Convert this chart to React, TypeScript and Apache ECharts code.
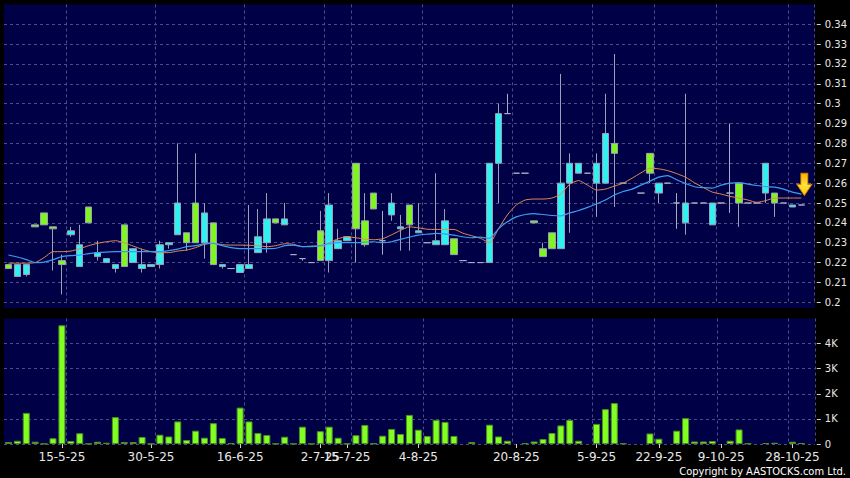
import React, { useEffect, useRef } from 'react';
import * as echarts from 'echarts';

// ---------- data ----------
const dayCount = 91;
const days: string[] = Array.from({ length: dayCount }, (_, i) => String(i));

const xTickLabels = ['15-5-25', '30-5-25', '16-6-25', '2-7-25', '15-7-25', '4-8-25', '20-8-25', '5-9-25', '22-9-25', '9-10-25', '28-10-25'];
const xTickDays = [6, 16, 26, 35, 38, 46, 57, 66, 73, 80, 88];
const xGridDays = [7, 17, 27, 36, 39, 47, 57, 66, 73, 80, 88];

const opens: (number | null)[] = [
  0.219, 0.213, 0.214, 0.239, 0.245, 0.238, 0.221, 0.234, 0.218, 0.248,
  0.223, 0.220, 0.217, 0.239, 0.220, 0.217, 0.218, 0.219, 0.229, 0.234,
  0.235, 0.250, 0.230, 0.240, 0.218, 0.217, 0.215, 0.217, 0.225, 0.230,
  0.242, 0.239, 0.224, 0.222, 0.220, 0.236, 0.221, 0.227, 0.231, 0.270,
  0.241, 0.255, 0.231, 0.244, 0.237, 0.249, 0.235, 0.230, 0.229, 0.229,
  0.232, 0.221, 0.220, 0.220, 0.220, 0.270, 0.295, 0.265, 0.265, 0.241,
  0.227, 0.235, 0.227, 0.260, 0.265, 0.265, 0.260, 0.260, 0.280, 0.260,
  null, 0.255, 0.275, 0.255, 0.260, 0.250, 0.240, 0.250, 0.250, 0.239,
  0.250, 0.255, 0.260, 0.250, 0.250, 0.255, 0.255, 0.250, 0.248, 0.249, null,
];
const closes: (number | null)[] = [
  0.217, 0.219, 0.219, 0.238, 0.239, 0.237, 0.219, 0.236, 0.229, 0.240,
  0.225, 0.222, 0.219, 0.218, 0.227, 0.219, 0.219, 0.229, 0.230, 0.250,
  0.230, 0.230, 0.245, 0.219, 0.219, 0.217, 0.219, 0.219, 0.233, 0.242,
  0.240, 0.242, 0.224, 0.222, 0.220, 0.221, 0.249, 0.231, 0.233, 0.237,
  0.229, 0.247, 0.231, 0.250, 0.238, 0.239, 0.236, 0.230, 0.231, 0.241,
  0.224, 0.221, 0.220, 0.220, 0.270, 0.295, 0.295, 0.265, 0.265, 0.240,
  0.223, 0.227, 0.260, 0.270, 0.270, 0.265, 0.270, 0.285, 0.275, 0.260,
  null, 0.255, 0.265, 0.260, 0.260, 0.250, 0.250, 0.250, 0.250, 0.250,
  0.250, 0.255, 0.250, 0.250, 0.250, 0.270, 0.250, 0.250, 0.249, 0.249, null,
];
const highs: (number | null)[] = [
  0.219, 0.219, 0.219, 0.239, 0.245, 0.238, 0.224, 0.238, 0.239, 0.248,
  0.231, 0.222, 0.219, 0.239, 0.227, 0.227, 0.219, 0.231, 0.230, 0.280,
  0.235, 0.275, 0.250, 0.240, 0.219, 0.217, 0.219, 0.249, 0.247, 0.255,
  0.242, 0.250, 0.224, 0.222, 0.220, 0.246, 0.255, 0.237, 0.233, 0.270,
  0.255, 0.255, 0.246, 0.255, 0.244, 0.249, 0.250, 0.230, 0.265, 0.247,
  0.232, 0.221, 0.220, 0.220, 0.270, 0.300, 0.305, 0.265, 0.265, 0.241,
  0.230, 0.235, 0.315, 0.275, 0.270, 0.265, 0.275, 0.305, 0.325, 0.260,
  null, 0.255, 0.275, 0.260, 0.260, 0.255, 0.305, 0.250, 0.250, 0.250,
  0.250, 0.290, 0.260, 0.250, 0.250, 0.270, 0.255, 0.250, 0.249, 0.249, null,
];
const lows: (number | null)[] = [
  0.217, 0.213, 0.213, 0.238, 0.239, 0.216, 0.204, 0.233, 0.218, 0.240,
  0.221, 0.220, 0.215, 0.218, 0.220, 0.215, 0.218, 0.217, 0.227, 0.234,
  0.226, 0.230, 0.222, 0.219, 0.217, 0.217, 0.215, 0.217, 0.225, 0.225,
  0.240, 0.239, 0.224, 0.221, 0.220, 0.221, 0.215, 0.227, 0.231, 0.220,
  0.228, 0.247, 0.224, 0.241, 0.226, 0.226, 0.235, 0.230, 0.229, 0.229,
  0.224, 0.221, 0.220, 0.220, 0.220, 0.250, 0.295, 0.265, 0.265, 0.240,
  0.223, 0.227, 0.227, 0.235, 0.265, 0.265, 0.243, 0.260, 0.248, 0.260,
  null, 0.255, 0.260, 0.250, 0.260, 0.237, 0.234, 0.250, 0.250, 0.239,
  0.250, 0.245, 0.238, 0.250, 0.250, 0.250, 0.243, 0.250, 0.248, 0.249, null,
];

// volume in thousands of shares
const volumesK: number[] = [
  0.08, 0.13, 1.24, 0.09, 0.01, 0.23, 4.73, 0.12, 0.43, 0.01,
  0.09, 0.05, 1.07, 0.08, 0.08, 0.28, 0.01, 0.37, 0.30, 0.90,
  0.16, 0.53, 0.25, 0.83, 0.24, 0.03, 1.45, 0.90, 0.44, 0.36,
  0.01, 0.29, 0.01, 0.69, 0.01, 0.51, 0.69, 0.25, 0.01, 0.35,
  0.76, 0.02, 0.33, 0.60, 0.40, 1.16, 0.57, 0.32, 0.96, 0.88,
  0.32, 0, 0.08, 0, 0.77, 0.30, 0.13, 0, 0.03, 0.10,
  0.20, 0.44, 0.74, 0.96, 0.13, 0, 0.80, 1.39, 1.63, 0.02,
  0, 0, 0.42, 0.21, 0, 0.53, 1.03, 0.10, 0.10, 0.12,
  0, 0.13, 0.58, 0.02, 0, 0.04, 0.05, 0, 0.09, 0.04, 0,
];

// moving averages (orange = short, blue = long)
const maShort: (number | null)[] = [
  0.2197, 0.2197, 0.2197, 0.2200, 0.2225, 0.2255, 0.2255, 0.2258, 0.2270, 0.2285,
  0.2297, 0.2305, 0.2310, 0.2300, 0.2283, 0.2267, 0.2255, 0.2250, 0.2250, 0.2258,
  0.2263, 0.2275, 0.2292, 0.2298, 0.2290, 0.2288, 0.2288, 0.2287, 0.2285, 0.2280,
  0.2285, 0.2295, 0.2292, 0.2280, 0.2283, 0.2283, 0.2300, 0.2320, 0.2330, 0.2325,
  0.2318, 0.2315, 0.2320, 0.2340, 0.2362, 0.2380, 0.2375, 0.2368, 0.2367, 0.2367,
  0.2367, 0.2348, 0.2335, 0.2322, 0.2300, 0.2370, 0.2440, 0.2490, 0.2515, 0.2520,
  0.2520, 0.2525, 0.2545, 0.2595, 0.2613, 0.2590, 0.2565, 0.2570, 0.2585, 0.2600,
  0.2625, 0.2652, 0.2675, 0.2672, 0.2663, 0.2648, 0.2630, 0.2602, 0.2578, 0.2555,
  0.2545, 0.2533, 0.2525, 0.2515, 0.2503, 0.2512, 0.2525, 0.2525, 0.2525, 0.2525, null,
];
const maLong: (number | null)[] = [
  0.2238, 0.2228, 0.2215, 0.2200, 0.2202, 0.2215, 0.2230, 0.2235, 0.2238, 0.2245,
  0.2250, 0.2253, 0.2255, 0.2255, 0.2255, 0.2255, 0.2255, 0.2255, 0.2260, 0.2268,
  0.2280, 0.2285, 0.2295, 0.2297, 0.2285, 0.2275, 0.2270, 0.2270, 0.2270, 0.2270,
  0.2272, 0.2285, 0.2288, 0.2280, 0.2280, 0.2285, 0.2295, 0.2300, 0.2300, 0.2300,
  0.2303, 0.2305, 0.2300, 0.2305, 0.2317, 0.2328, 0.2338, 0.2343, 0.2347, 0.2345,
  0.2338, 0.2330, 0.2325, 0.2328, 0.2322, 0.2370, 0.2405, 0.2430, 0.2442, 0.2447,
  0.2442, 0.2437, 0.2435, 0.2450, 0.2462, 0.2478, 0.2495, 0.2515, 0.2540, 0.2558,
  0.2570, 0.2590, 0.2610, 0.2630, 0.2638, 0.2617, 0.2598, 0.2582, 0.2577, 0.2575,
  0.2590, 0.2600, 0.2603, 0.2595, 0.2588, 0.2582, 0.2580, 0.2570, 0.2555, 0.2545, null,
];

const arrowDay = 89;
const arrowPrice = 0.2538;

// ---------- styling ----------
const NAVY = '#000046';
const GRID_LINE = { color: '#4c4c88', width: 1, type: [3, 3] as number[] };
const TEXT = '#e8e8e8';
const FONT = 'DejaVu Sans';

function buildOption() {
  const candles = days.map((_, i) =>
    opens[i] == null ? ['-', '-', '-', '-'] : [opens[i], closes[i], lows[i], highs[i]]
  );
  const vols = volumesK.map((v) => (v > 0 ? v : '-'));
  const ma1 = maShort.map((v) => (v == null ? '-' : v));
  const ma2 = maLong.map((v) => (v == null ? '-' : v));
  const labelMap: Record<number, string> = {};
  xTickDays.forEach((d, k) => (labelMap[d] = xTickLabels[k]));
  const isTick = (i: number) => labelMap[i] !== undefined;
  const isGrid = (i: number) => xGridDays.indexOf(i) >= 0;

  const gridLeft = 4;
  const gridWidth = 810.8;

  return {
    animation: false,
    backgroundColor: '#000000',
    grid: [
      { left: gridLeft, width: gridWidth, top: 4.4, height: 297.9, show: true, backgroundColor: NAVY, borderWidth: 0 },
      { left: gridLeft, width: gridWidth, top: 318.5, height: 125.5, show: true, backgroundColor: NAVY, borderWidth: 0 },
    ],
    graphic: [
      { type: 'rect', shape: { x: gridLeft, y: 302.8, width: gridWidth, height: 5.2 }, style: { fill: NAVY }, z: -10, silent: true },
      {
        type: 'text', x: 846, y: 471, silent: true,
        style: { text: 'Copyright by AASTOCKS.com Ltd.', fill: '#ffffff', font: '11px "DejaVu Sans Condensed", "DejaVu Sans"', textAlign: 'right', textVerticalAlign: 'middle' },
      },
    ],
    xAxis: [
      {
        type: 'category', gridIndex: 0, data: days, boundaryGap: true,
        axisLine: { show: false }, axisTick: { show: false }, axisLabel: { show: false },
        splitLine: { show: true, interval: (i: number) => isGrid(i), lineStyle: GRID_LINE },
      },
      {
        type: 'category', gridIndex: 1, data: days, boundaryGap: true, offset: 1,
        axisLine: { show: false },
        axisTick: { show: true, alignWithLabel: true, length: 4, interval: (i: number) => isTick(i), lineStyle: { color: '#cfcfcf' } },
        axisLabel: {
          show: true, interval: (i: number) => isTick(i), margin: 6,
          color: TEXT, fontSize: 12, fontFamily: FONT,
          formatter: (_v: string, i: number) => labelMap[i] ?? '',
        },
        splitLine: { show: true, interval: (i: number) => isGrid(i), lineStyle: GRID_LINE },
      },
    ],
    yAxis: [
      {
        type: 'value', gridIndex: 0, position: 'right', min: 0.2, max: 0.35, interval: 0.01, offset: 2,
        axisLine: { show: false },
        axisTick: { show: true, length: 4, lineStyle: { color: '#cfcfcf' } },
        axisLabel: {
          showMaxLabel: false, margin: 8, color: TEXT, fontSize: 10, fontFamily: FONT,
          formatter: (v: number) => String(Math.round(v * 100) / 100),
        },
        splitLine: { show: true, showMaxLine: false, lineStyle: GRID_LINE },
      },
      {
        type: 'value', gridIndex: 1, position: 'right', min: 0, max: 5, interval: 1, offset: 2,
        axisLine: { show: false },
        axisTick: { show: true, length: 4, lineStyle: { color: '#cfcfcf' } },
        axisLabel: {
          showMaxLabel: false, margin: 8, color: TEXT, fontSize: 10, fontFamily: FONT,
          formatter: (v: number) => (v === 0 ? '0' : `${v}K`),
        },
        splitLine: { show: true, showMaxLine: false, lineStyle: GRID_LINE },
      },
    ],
    series: [
      {
        type: 'candlestick', xAxisIndex: 0, yAxisIndex: 0, data: candles, barWidth: 7, z: 3,
        itemStyle: {
          color: '#30f0f0', color0: '#80f520',
          borderColor: '#9aa0b8', borderColor0: '#9aa0b8', borderColorDoji: '#a8acc4', borderWidth: 1,
        },
        markPoint: {
          silent: true, animation: false,
          data: [{
            coord: [days[arrowDay], arrowPrice],
            symbol: 'path://M4,0 L11,0 L11,11 L15,11 L7.5,22 L0,11 L4,11 Z',
            symbolSize: [15, 22], symbolOffset: [3, -11], symbolKeepAspect: false,
            itemStyle: {
              color: new echarts.graphic.LinearGradient(0, 0, 0, 1, [
                { offset: 0, color: '#ffb000' }, { offset: 0.5, color: '#ffe040' }, { offset: 1, color: '#ffd000' },
              ]),
              borderColor: '#d08000', borderWidth: 1,
            },
            label: { show: false },
          }],
        },
      },
      {
        type: 'line', xAxisIndex: 0, yAxisIndex: 0, data: ma1, symbol: 'none', smooth: 0.2, z: 4,
        lineStyle: { color: '#e08a56', width: 1 },
      },
      {
        type: 'line', xAxisIndex: 0, yAxisIndex: 0, data: ma2, symbol: 'none', smooth: 0.2, z: 4,
        lineStyle: { color: '#3d9cf0', width: 1.2 },
      },
      {
        type: 'bar', xAxisIndex: 1, yAxisIndex: 1, data: vols, barWidth: 7,
        itemStyle: { color: '#80ff20', borderColor: '#4e8e24', borderWidth: 1 },
      },
    ],
  };
}

export default function App() {
  const ref = useRef<HTMLDivElement>(null);
  useEffect(() => {
    document.body.style.margin = '0';
    document.body.style.background = '#000';
    const chart = echarts.init(ref.current!, null, { renderer: 'svg', width: 850, height: 478 });
    chart.setOption(buildOption() as any);
    return () => chart.dispose();
  }, []);
  return <div ref={ref} style={{ width: 850, height: 478, background: '#000' }} />;
}
